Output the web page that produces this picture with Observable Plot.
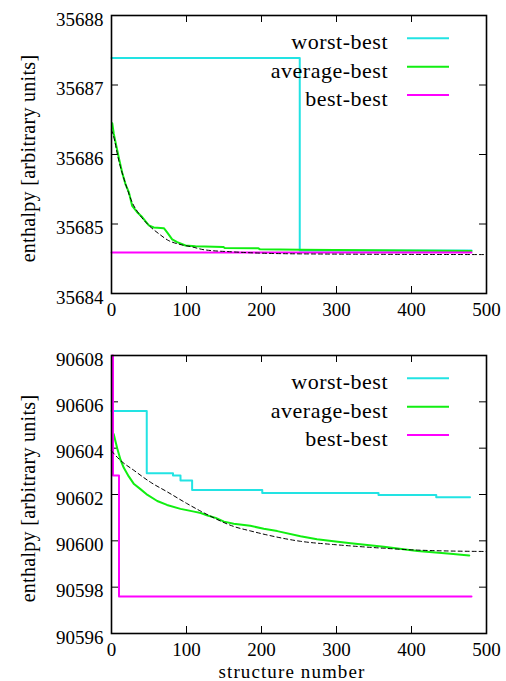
<!DOCTYPE html>
<html><head><meta charset="utf-8">
<script src="https://cdn.jsdelivr.net/npm/d3@7"></script>
<script src="https://cdn.jsdelivr.net/npm/@observablehq/plot@0.6"></script>
<style>
body{margin:0;background:#fff}
#chart{width:506px}
#chart svg{display:block}
</style>
</head><body><div id="chart"></div>
<script>
// ---------- data ----------
const seriesNames = ["worst-best", "average-best", "best-best"];
const seriesColors = ["#22e3e3", "#11ee11", "#ff00ff"];
const xTicks = [0, 100, 200, 300, 400, 500];
const yLabel = "enthalpy [arbitrary units]";
const xLabel = "structure number";

// top panel
const topYTicks = [35684, 35685, 35686, 35687, 35688];
const topWorst = [[0,35687.39],[251,35684.62],[480,35684.62]];
const topAverage = [[1,35686.45],[3,35686.30],[5.3,35686.18],[9.8,35685.95],[14.2,35685.74],[18.7,35685.57],[23.1,35685.46],[27.6,35685.26],[34.2,35685.17],[40.9,35685.10],[49.8,35684.98],[56.4,35684.95],[69.8,35684.94],[74.2,35684.88],[80.9,35684.78],[87.6,35684.74],[98.7,35684.69],[112,35684.68],[149,35684.67],[151,35684.655],[196,35684.65],[198,35684.635],[252,35684.63],[480,35684.61]];
const topBest = [[0,35684.59],[480,35684.59]];
const topFit = [[0,35686.35],[1.8,35686.30],[9.8,35685.91],[18.7,35685.58],[27.6,35685.31],[36.4,35685.15],[49.8,35684.98],[63.1,35684.86],[76.4,35684.76],[89.8,35684.71],[107.6,35684.67],[123,35684.63],[160,35684.60],[252,35684.57],[500,35684.56]];

// bottom panel
const botYTicks = [90596, 90598, 90600, 90602, 90604, 90606, 90608];
const botWorst = [[0,90605.6],[47,90602.92],[82,90602.82],[92,90602.6],[107.5,90602.19],[201,90602.07],[356,90601.98],[433,90601.88],[478,90601.88]];
const botAverage = [[1,90604.7],[3,90604.6],[7.6,90604.0],[12,90603.5],[16.4,90603.15],[23,90602.78],[30,90602.45],[39,90602.22],[48,90601.98],[61,90601.72],[74,90601.55],[92,90601.38],[110,90601.26],[119,90601.20],[128,90601.09],[139,90600.99],[150,90600.83],[163,90600.74],[185,90600.65],[203,90600.52],[221,90600.42],[252,90600.20],[274,90600.07],[296,90599.98],[319,90599.90],[363,90599.74],[408,90599.56],[452,90599.44],[477,90599.37]];
const botBest = [[1,90608],[2,90602.82],[10,90597.6],[480,90597.6]];
const botFit = [[0,90603.88],[12,90603.47],[30,90603.04],[52,90602.53],[74,90602.12],[100,90601.62],[119,90601.28],[139,90600.95],[163,90600.62],[185,90600.43],[208,90600.25],[252,90599.98],[296,90599.84],[319,90599.78],[363,90599.68],[408,90599.60],[500,90599.54]];

// ---------- drawing ----------
const W = 506, mL = 111, mR = 20, mT = 15;
const fw = W - mL - mR;
const FONT = "Liberation Serif";

function panel({height, mB, yDomain, yTicks, worst, average, best, fit, showXLabel}) {
  const fh = height - mT - mB;
  const X = d => d[0], Y = d => d[1];
  const marks = [
    Plot.axisY(yTicks, {tickSize: 0, tickPadding: 8, dy: 4, label: null, tickFormat: d => String(d), fontSize: 19}),
    Plot.axisX(xTicks, {tickSize: 0, tickPadding: 9, label: null, tickFormat: d => String(d), fontSize: 19}),
    Plot.tickY(yTicks, {y: d => d, insetRight: fw - 7, stroke: "black", strokeWidth: 1}),
    Plot.tickY(yTicks, {y: d => d, insetLeft: fw - 7, stroke: "black", strokeWidth: 1}),
    Plot.tickX(xTicks, {x: d => d, insetTop: fh - 7, stroke: "black", strokeWidth: 1}),
    Plot.tickX(xTicks, {x: d => d, insetBottom: fh - 7, stroke: "black", strokeWidth: 1}),
    Plot.line(worst, {x: X, y: Y, curve: "step-after", stroke: seriesColors[0], strokeWidth: 2}),
    Plot.line(average, {x: X, y: Y, stroke: seriesColors[1], strokeWidth: 2}),
    Plot.line(best, {x: X, y: Y, curve: "step-after", stroke: seriesColors[2], strokeWidth: 2}),
    Plot.line(fit, {x: X, y: Y, curve: "monotone-x", stroke: "black", strokeWidth: 1, strokeDasharray: "4,3"}),
    Plot.text([yLabel], {frameAnchor: "left", textAnchor: "middle", lineAnchor: "middle", dx: -83, dy: 4, rotate: -90, fontSize: 20}),
    Plot.frame({stroke: "black", strokeWidth: 1.6})
  ];
  if (showXLabel) {
    marks.push(Plot.text([xLabel], {frameAnchor: "bottom", textAnchor: "middle", lineAnchor: "middle", dx: -7, dy: 38, fontSize: 19}));
  }
  const svg = Plot.plot({
    width: W, height,
    marginLeft: mL, marginRight: mR, marginTop: mT, marginBottom: mB,
    x: {domain: [0, 500]},
    y: {domain: yDomain},
    style: {fontSize: "20px", background: "white", color: "black"},
    marks
  });
  // legend
  const s = d3.select(svg);
  seriesNames.forEach((name, i) => {
    const ly = mT + 23.3 + 28.4 * i;
    s.append("text").attr("x", 388).attr("y", ly + 11).attr("text-anchor", "end")
      .attr("font-size", 22).attr("letter-spacing", "0.5px").attr("fill", "black").text(name);
    s.append("line").attr("x1", 407).attr("x2", 449).attr("y1", ly).attr("y2", ly)
      .attr("stroke", seriesColors[i]).attr("stroke-width", 2);
  });
  return svg;
}

const chart = document.getElementById("chart");
chart.appendChild(panel({height: 340, mB: 47, yDomain: [35684, 35688], yTicks: topYTicks,
  worst: topWorst, average: topAverage, best: topBest, fit: topFit, showXLabel: false}));
chart.appendChild(panel({height: 341, mB: 48, yDomain: [90596, 90608], yTicks: botYTicks,
  worst: botWorst, average: botAverage, best: botBest, fit: botFit, showXLabel: true}));
document.querySelectorAll("#chart svg, #chart g, #chart text").forEach(el => {
  el.setAttribute("font-family", FONT);
  el.style.setProperty("font-family", FONT, "important");
});
d3.selectAll("#chart text").filter(function(){ return this.textContent === xLabel; }).attr("letter-spacing", "1.1px");
d3.selectAll("#chart text").filter(function(){ return this.textContent === yLabel; }).attr("letter-spacing", "0.3px");
</script>
</body></html>
